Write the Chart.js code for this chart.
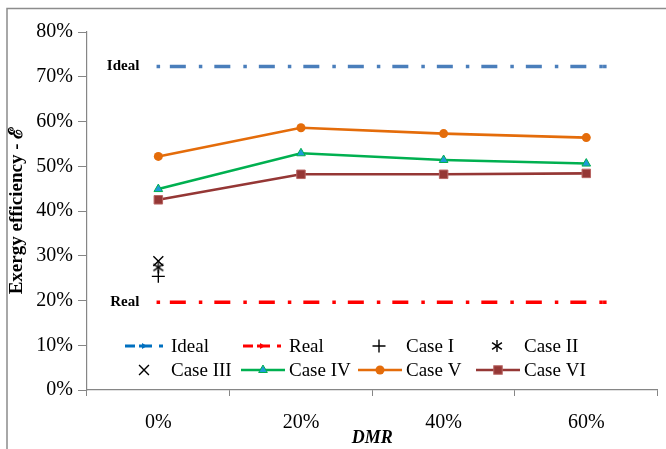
<!DOCTYPE html>
<html>
<head>
<meta charset="utf-8">
<script src="https://cdn.jsdelivr.net/npm/chart.js@4/dist/chart.umd.min.js"></script>
<style>
  html, body { margin: 0; padding: 0; background: #fff; }
  #wrap { position: relative; width: 666px; height: 449px; }
</style>
</head>
<body>
<div id="wrap"><canvas id="c" width="666" height="449"></canvas></div>
<script>
// Categories (DMR share) and efficiency values in percent
const dmrLabels = ['0%', '20%', '40%', '60%'];
const caseI   = [25.4, null, null, null];
const caseII  = [27.4, null, null, null];
const caseIII = [28.8, null, null, null];
const caseIV  = [44.9, 52.9, 51.4, 50.6];
const caseV   = [52.2, 58.6, 57.3, 56.4];
const caseVI  = [42.5, 48.2, 48.2, 48.4];
const idealLevel = 72.3;
const realLevel  = 19.6;
// horizontal reference lines run along the category axis, in category units
const refLineSpan = [0, 3.13];
const yTicks = [0, 10, 20, 30, 40, 50, 60, 70, 80];

const SERIF = '"Liberation Serif", "Times New Roman", serif';

// six-armed asterisk marker
function asteriskCanvas(size, color, lw) {
  const cv = document.createElement('canvas');
  cv.width = size; cv.height = size;
  const g = cv.getContext('2d');
  const c = size / 2, r = size / 2 - 1;
  g.strokeStyle = color; g.lineWidth = lw;
  [90, 35, 145].forEach(a => {
    const t = a * Math.PI / 180;
    g.beginPath();
    g.moveTo(c - r * Math.cos(t), c - r * Math.sin(t));
    g.lineTo(c + r * Math.cos(t), c + r * Math.sin(t));
    g.stroke();
  });
  return cv;
}
const asterisk = asteriskCanvas(14, '#000', 1.4);

function refLine(level) {
  return refLineSpan.map(x => ({ x: x, y: level }));
}

const datasets = [
  { label: 'Ideal', data: refLine(idealLevel), xAxisID: 'xl',
    borderColor: '#4A7EBB', backgroundColor: '#4A7EBB', borderWidth: 3.5,
    borderDash: [16, 13, 3.5, 12], borderDashOffset: 33, borderCapStyle: 'butt',
    pointStyle: 'rect', pointRadius: 2.5, pointBorderWidth: 0,
    legendColor: '#0070C0', endLabel: 'Ideal' },
  { label: 'Real', data: refLine(realLevel), xAxisID: 'xl',
    borderColor: '#FF0000', backgroundColor: '#FF0000', borderWidth: 3.5,
    borderDash: [16, 13, 3.5, 12], borderDashOffset: 33, borderCapStyle: 'butt',
    pointStyle: 'rect', pointRadius: 2.5, pointBorderWidth: 0,
    legendColor: '#FF0000', endLabel: 'Real' },
  { label: 'Case I', data: caseI, showLine: false,
    borderColor: '#000', backgroundColor: '#000',
    pointStyle: 'cross', pointRadius: 6.5, pointBorderWidth: 1.4 },
  { label: 'Case II', data: caseII, showLine: false,
    borderColor: '#000', backgroundColor: '#000',
    pointStyle: asterisk, pointRadius: 6.5 },
  { label: 'Case III', data: caseIII, showLine: false,
    borderColor: '#000', backgroundColor: '#000',
    pointStyle: 'crossRot', pointRadius: 7, pointBorderWidth: 1.4 },
  { label: 'Case IV', data: caseIV,
    borderColor: '#00B050', backgroundColor: '#1E9BD7', borderWidth: 2.6,
    pointStyle: 'triangle', pointRadius: 5, pointBorderColor: '#00B050', pointBorderWidth: 1 },
  { label: 'Case V', data: caseV,
    borderColor: '#E46C0A', backgroundColor: '#E46C0A', borderWidth: 2.6,
    pointStyle: 'circle', pointRadius: 4.5, pointBorderWidth: 0 },
  { label: 'Case VI', data: caseVI,
    borderColor: '#953735', backgroundColor: '#953735', borderWidth: 2.6,
    pointStyle: 'rect', pointRadius: 6, pointBorderColor: '#B86563', pointBorderWidth: 1 }
];

// outer frame around the whole figure
const framePlugin = {
  id: 'frame',
  beforeDraw(chart) {
    const g = chart.ctx;
    g.save();
    g.fillStyle = '#fff';
    g.fillRect(0, 0, chart.width, chart.height);
    g.strokeStyle = '#8c8c8c';
    g.lineWidth = 1.5;
    g.strokeRect(7, 8.5, 720, 520);
    g.restore();
  }
};

// "Ideal" / "Real" labels at the left end of the reference lines
const endLabelPlugin = {
  id: 'endLabels',
  afterDatasetsDraw(chart) {
    const g = chart.ctx;
    g.save();
    g.font = 'bold 15px ' + SERIF;
    g.fillStyle = '#000';
    g.textAlign = 'right';
    g.textBaseline = 'middle';
    chart.data.datasets.forEach((ds, i) => {
      if (!ds.endLabel) return;
      const pt = chart.getDatasetMeta(i).data[0];
      g.fillText(ds.endLabel, pt.x - 19, pt.y);
    });
    g.restore();
  }
};

function drawMarker(g, ds, x, y) {
  const st = ds.pointStyle, r = ds.pointRadius;
  g.save();
  g.fillStyle = ds.backgroundColor;
  g.strokeStyle = ds.pointBorderColor || ds.borderColor;
  g.lineWidth = ds.pointBorderWidth || 1;
  if (st instanceof HTMLCanvasElement) {
    g.drawImage(st, x - st.width / 2, y - st.height / 2);
  } else if (st === 'cross') {
    g.beginPath(); g.moveTo(x - r, y); g.lineTo(x + r, y);
    g.moveTo(x, y - r); g.lineTo(x, y + r); g.stroke();
  } else if (st === 'crossRot') {
    const d = r * Math.SQRT1_2;
    g.beginPath(); g.moveTo(x - d, y - d); g.lineTo(x + d, y + d);
    g.moveTo(x + d, y - d); g.lineTo(x - d, y + d); g.stroke();
  } else if (st === 'triangle') {
    g.beginPath();
    g.moveTo(x, y - r);
    g.lineTo(x + r * 0.866, y + r * 0.5);
    g.lineTo(x - r * 0.866, y + r * 0.5);
    g.closePath(); g.fill(); g.stroke();
  } else if (st === 'circle') {
    g.beginPath(); g.arc(x, y, r, 0, Math.PI * 2); g.fill();
  } else if (st === 'rect') {
    const s = r * Math.SQRT1_2;
    g.fillRect(x - s, y - s, 2 * s, 2 * s);
    if (ds.pointBorderWidth) g.strokeRect(x - s, y - s, 2 * s, 2 * s);
  }
  g.restore();
}

// two-row legend placed inside the plot area
const legendPlugin = {
  id: 'innerLegend',
  afterDraw(chart) {
    const g = chart.ctx;
    const colX = [125, 243, 360, 478];
    const rowY = [346, 370];
    const sampleW = 38;
    g.save();
    g.font = '19px ' + SERIF;
    g.textBaseline = 'middle';
    g.textAlign = 'left';
    chart.data.datasets.forEach((ds, i) => {
      const x0 = colX[i % 4], y = rowY[Math.floor(i / 4)];
      const cx = x0 + sampleW / 2;
      if (ds.xAxisID === 'xl') {
        g.save();
        g.strokeStyle = ds.legendColor;
        g.lineWidth = 3;
        g.setLineDash([10, 7]);
        g.beginPath(); g.moveTo(x0, y); g.lineTo(x0 + sampleW, y); g.stroke();
        g.restore();
        g.fillStyle = ds.legendColor;
        g.beginPath();
        g.moveTo(cx + 3, y); g.lineTo(cx - 2, y - 3); g.lineTo(cx - 2, y + 3);
        g.closePath(); g.fill();
        g.fillRect(cx - 5, y - 1.5, 4, 3);
      } else if (ds.showLine === false) {
        drawMarker(g, ds, cx, y);
      } else {
        g.save();
        g.strokeStyle = ds.borderColor;
        g.lineWidth = ds.borderWidth;
        g.beginPath(); g.moveTo(x0 - 2, y); g.lineTo(x0 + sampleW + 4, y); g.stroke();
        g.restore();
        drawMarker(g, ds, cx + 1, y);
      }
      g.fillStyle = '#000';
      g.fillText(ds.label, x0 + 46, y + 1);
    });
    g.restore();
  }
};

new Chart(document.getElementById('c'), {
  type: 'line',
  data: { labels: dmrLabels, datasets: datasets },
  plugins: [framePlugin, endLabelPlugin, legendPlugin],
  options: {
    responsive: false,
    animation: false,
    events: [],
    layout: { padding: { top: 32, right: 7, left: 0, bottom: 0 } },
    plugins: { legend: { display: false }, tooltip: { enabled: false } },
    scales: {
      x: {
        type: 'category',
        offset: true,
        grid: { offset: true, drawOnChartArea: false, tickLength: 6, color: '#868686' },
        border: { color: '#868686', width: 1.2 },
        ticks: { color: '#000', font: { family: SERIF, size: 20 }, padding: 15, maxRotation: 0 },
        title: { display: true, text: 'DMR', color: '#000',
                 font: { family: SERIF, size: 18, weight: 'bold', style: 'italic' },
                 padding: { top: 0, bottom: 0 } },
        afterFit(s) { s.height = 59; }
      },
      xl: {
        type: 'linear', display: false, min: -0.5, max: 3.5
      },
      y: {
        min: 0, max: 80,
        afterBuildTicks(s) { s.ticks = yTicks.map(v => ({ value: v })); },
        grid: { drawOnChartArea: false, tickLength: 9, color: '#868686' },
        border: { color: '#868686', width: 1.2 },
        ticks: { color: '#000', font: { family: SERIF, size: 20 }, padding: 5,
                 callback: v => v + '%' },
        title: { display: true, text: 'Exergy efficiency - ℰ', color: '#000',
                 font: { family: SERIF, size: 19, weight: 'bold' },
                 padding: { top: 6, bottom: 0 } },
        afterFit(s) { s.width = 87; }
      }
    }
  }
});
</script>
</body>
</html>
